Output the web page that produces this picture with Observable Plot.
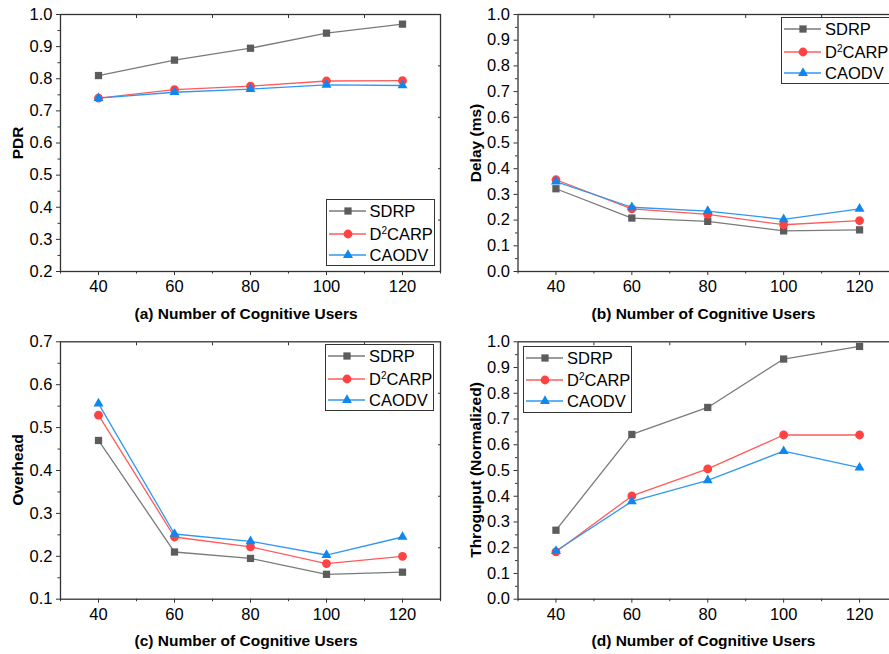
<!DOCTYPE html>
<html><head>
<meta charset="utf-8">
<script src="https://cdn.jsdelivr.net/npm/d3@7"></script>
<script src="https://cdn.jsdelivr.net/npm/@observablehq/plot@0.6"></script>
<style>
html,body{margin:0;padding:0;background:#fff}
body{width:889px;height:654px;overflow:hidden;position:relative;font-family:"Liberation Sans",Arial,sans-serif;color:#000}
.panel{position:absolute}
.ylab,.xlab{position:absolute;font-weight:bold;font-size:15.5px;white-space:nowrap;line-height:1}
.ylab{transform:translate(-50%,-50%) rotate(-90deg)}
.xlab{transform:translate(-50%,-50%)}
.legend{position:absolute;border:1.3px solid #333;background:#fff;box-sizing:border-box}
.row{position:absolute;left:0;height:20px;font-size:16.5px;line-height:20px;white-space:nowrap}
.row svg{position:absolute;left:1px;top:0}
.row span{position:absolute;left:43px;top:0}
sup{font-size:10px;vertical-align:0;position:relative;top:-6px}
</style>
</head><body>
<script>
// ---- data ----
const users = [40, 60, 80, 100, 120];
const seriesNames = ["SDRP", "D2CARP", "CAODV"];

const pdrSDRP   = [0.81, 0.858, 0.895, 0.942, 0.97];
const pdrD2CARP = [0.74, 0.766, 0.777, 0.793, 0.794];
const pdrCAODV  = [0.74, 0.758, 0.768, 0.781, 0.779];

const delaySDRP   = [0.322, 0.208, 0.195, 0.158, 0.162];
const delayD2CARP = [0.357, 0.244, 0.222, 0.182, 0.198];
const delayCAODV  = [0.350, 0.250, 0.235, 0.203, 0.244];

const ovhSDRP   = [0.47, 0.21, 0.195, 0.158, 0.163];
const ovhD2CARP = [0.529, 0.245, 0.222, 0.183, 0.20];
const ovhCAODV  = [0.556, 0.252, 0.235, 0.203, 0.245];

const thrSDRP   = [0.268, 0.64, 0.745, 0.933, 0.982];
const thrD2CARP = [0.184, 0.401, 0.506, 0.638, 0.638];
const thrCAODV  = [0.187, 0.38, 0.462, 0.575, 0.511];

const xTicks = [40, 60, 80, 100, 120];
const xMinor = [30, 50, 70, 90, 110, 130];
const xTop = [50, 70, 90, 110];

// ---- styles ----
const lineColors = {SDRP: "#7a7a7a", D2CARP: "#ff5b5b", CAODV: "#2f98f2"};
const markColors = {SDRP: "#5c5c5c", D2CARP: "#ff4242", CAODV: "#0f87ec"};
const symbols = {SDRP: "square", D2CARP: "circle", CAODV: "triangle"};
const radii = {SDRP: 4.1, D2CARP: 4.4, CAODV: 3.7};
const d3sym = {square: d3.symbolSquare, circle: d3.symbolCircle, triangle: d3.symbolTriangle};
const tickFont = 16.5;

function makePanel(cfg) {
  const {vals, yDomain, left, top, marginLeft, width, marginTop, marginBottom, ylabel, xlabel, legend} = cfg;
  const [y0, y1] = yDomain;
  const nMaj = Math.round((y1 - y0) / 0.1);
  const yMajor = d3.range(nMaj + 1).map(i => +(y0 + i * 0.1).toFixed(2));
  const yMinor = d3.range(nMaj).map(i => +(y0 + i * 0.1 + 0.05).toFixed(3));
  const yRight = d3.range(1, 5).map(k => y0 + k * (y1 - y0) / 5);
  const marks = [];
  marks.push(Plot.frame({stroke: "#333", strokeWidth: 1.3}));
  marks.push(Plot.axisY({ticks: yMinor, tickSize: 2.5, tickFormat: () => "", label: null, stroke: "#333"}));
  marks.push(Plot.axisY({ticks: yMajor, tickSize: 4, tickPadding: 4, tickFormat: d => d.toFixed(1), label: null, stroke: "#333", fontSize: tickFont}));
  marks.push(Plot.axisX({ticks: xMinor, tickSize: 2.5, tickFormat: () => "", label: null, stroke: "#333"}));
  marks.push(Plot.axisX({ticks: xTicks, tickSize: 4, tickPadding: 5, tickFormat: d => String(d), label: null, stroke: "#333", fontSize: tickFont}));
  marks.push(Plot.axisX({anchor: "top", ticks: xTop, tickSize: -3, tickFormat: () => "", label: null, stroke: "#333"}));
  marks.push(Plot.axisY({anchor: "right", ticks: yRight, tickSize: -3, tickFormat: () => "", label: null, stroke: "#333"}));
  seriesNames.forEach((s, i) => {
    const data = users.map((u, j) => ({x: u, y: vals[i][j]}));
    marks.push(Plot.line(data, {x: "x", y: "y", stroke: lineColors[s], strokeWidth: 1.3}));
  });
  seriesNames.forEach((s, i) => {
    const data = users.map((u, j) => ({x: u, y: vals[i][j]}));
    marks.push(Plot.dot(data, {x: "x", y: "y", symbol: symbols[s], r: radii[s], fill: markColors[s], stroke: "none"}));
  });
  const p = Plot.plot({
    width, height: 327, marginLeft, marginRight: 5, marginTop, marginBottom,
    x: {domain: [30, 130]}, y: {domain: yDomain},
    style: {fontFamily: '"Liberation Sans", Arial, sans-serif', fontSize: tickFont + "px", color: "#000", background: "transparent", overflow: "visible"},
    marks
  });
  p.classList.add("panel");
  p.style.left = left + "px";
  p.style.top = top + "px";
  document.body.appendChild(p);

  const fl = left + marginLeft, fb = top + 327 - marginBottom, ft = top + marginTop;
  const yl = document.createElement("div");
  yl.className = "ylab"; yl.textContent = ylabel;
  yl.style.left = (fl - 42) + "px"; yl.style.top = ((ft + fb) / 2) + "px";
  document.body.appendChild(yl);
  const xl = document.createElement("div");
  xl.className = "xlab"; xl.textContent = xlabel;
  xl.style.left = (fl + 186) + "px"; xl.style.top = (fb + 42.5) + "px";
  document.body.appendChild(xl);

  const lg = document.createElement("div");
  lg.className = "legend";
  lg.style.left = legend.x + "px"; lg.style.top = legend.y + "px";
  lg.style.width = "109px"; lg.style.height = "67px";
  const rowTops = [1, 23.5, 44.5];
  seriesNames.forEach((s, i) => {
    const row = document.createElement("div");
    row.className = "row"; row.style.top = rowTops[i] + "px"; row.style.width = "109px";
    const r = radii[s];
    const path = d3.symbol().type(d3sym[symbols[s]]).size(Math.PI * r * r)();
    row.innerHTML = `<svg width="40" height="20"><line x1="1" x2="38" y1="10" y2="10" stroke="${lineColors[s]}" stroke-width="1.3"/><path transform="translate(20,10)" d="${path}" fill="${markColors[s]}"/></svg><span>${s === "D2CARP" ? "D<sup>2</sup>CARP" : s}</span>`;
    lg.appendChild(row);
  });
  document.body.appendChild(lg);
}

makePanel({vals: [pdrSDRP, pdrD2CARP, pdrCAODV], yDomain: [0.2, 1.0], left: 0, top: 0, width: 445, marginLeft: 60, marginTop: 14, marginBottom: 56,
  ylabel: "PDR", xlabel: "(a) Number of Cognitive Users", legend: {x: 325.5, y: 199}});
makePanel({vals: [delaySDRP, delayD2CARP, delayCAODV], yDomain: [0, 1.0], left: 445, top: 0, width: 457, marginLeft: 72.5, marginTop: 14, marginBottom: 56,
  ylabel: "Delay (ms)", xlabel: "(b) Number of Cognitive Users", legend: {x: 781, y: 17}});
makePanel({vals: [ovhSDRP, ovhD2CARP, ovhCAODV], yDomain: [0.1, 0.7], left: 0, top: 327, width: 445, marginLeft: 60, marginTop: 14.3, marginBottom: 55.3,
  ylabel: "Overhead", xlabel: "(c) Number of Cognitive Users", legend: {x: 325, y: 344}});
makePanel({vals: [thrSDRP, thrD2CARP, thrCAODV], yDomain: [0, 1.0], left: 445, top: 327, width: 457, marginLeft: 72.5, marginTop: 14.3, marginBottom: 55.3,
  ylabel: "Throguput (Normalized)", xlabel: "(d) Number of Cognitive Users", legend: {x: 523, y: 345.5}});
</script>
</body></html>
